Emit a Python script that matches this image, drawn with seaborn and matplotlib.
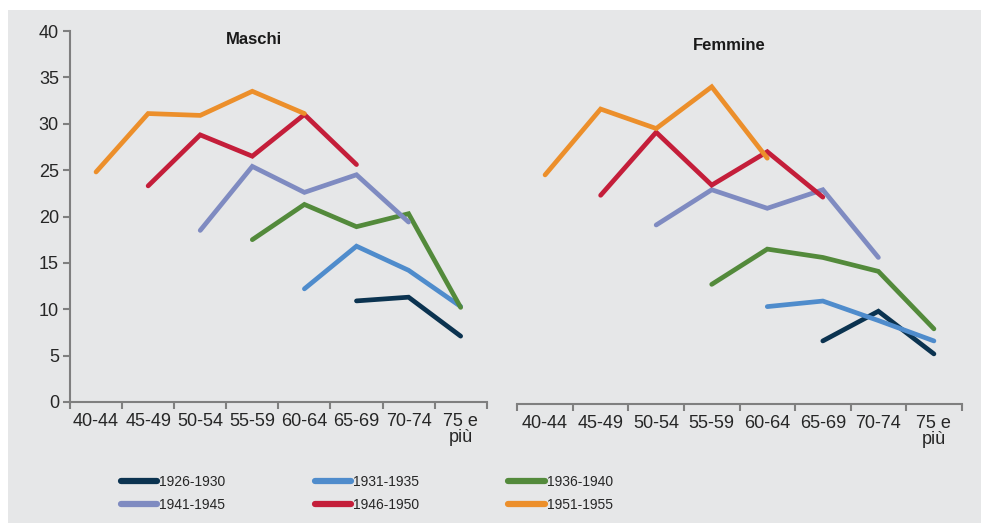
import numpy as np
import pandas as pd
import matplotlib
matplotlib.use("Agg")
import matplotlib.pyplot as plt
from matplotlib.patches import Rectangle
from matplotlib.lines import Line2D
import seaborn as sns

# ---------------- data ----------------
age_groups = ["40-44", "45-49", "50-54", "55-59", "60-64", "65-69", "70-74", "75 e\npiù"]
cohorts = ["1926-1930", "1931-1935", "1936-1940", "1941-1945", "1946-1950", "1951-1955"]
colors = ["#0b3350", "#4f8ccc", "#538a3b", "#7f8bc1", "#c41e3a", "#ec8f2b"]

nan = np.nan
maschi_1926_1930 = [nan, nan, nan, nan, nan, 10.9, 11.3, 7.1]
maschi_1931_1935 = [nan, nan, nan, nan, 12.2, 16.8, 14.2, 10.3]
maschi_1936_1940 = [nan, nan, nan, 17.5, 21.3, 18.9, 20.3, 10.2]
maschi_1941_1945 = [nan, nan, 18.5, 25.4, 22.6, 24.5, 19.4, nan]
maschi_1946_1950 = [nan, 23.3, 28.8, 26.5, 31.0, 25.6, nan, nan]
maschi_1951_1955 = [24.8, 31.1, 30.9, 33.5, 31.1, nan, nan, nan]

femmine_1926_1930 = [nan, nan, nan, nan, nan, 6.8, 10.0, 5.4]
femmine_1931_1935 = [nan, nan, nan, nan, 10.5, 11.1, 9.0, 6.8]
femmine_1936_1940 = [nan, nan, nan, 12.9, 16.7, 15.8, 14.3, 8.1]
femmine_1941_1945 = [nan, nan, 19.3, 23.1, 21.1, 23.1, 15.8, nan]
femmine_1946_1950 = [nan, 22.5, 29.3, 23.6, 27.2, 22.3, nan, nan]
femmine_1951_1955 = [24.7, 31.8, 29.7, 34.2, 26.5, nan, nan, nan]

maschi = [maschi_1926_1930, maschi_1931_1935, maschi_1936_1940,
          maschi_1941_1945, maschi_1946_1950, maschi_1951_1955]
femmine = [femmine_1926_1930, femmine_1931_1935, femmine_1936_1940,
           femmine_1941_1945, femmine_1946_1950, femmine_1951_1955]


def long_frame(series):
    rows = []
    for coh, vals in zip(cohorts, series):
        for i, v in enumerate(vals):
            if not np.isnan(v):
                rows.append({"x": i, "val": v, "coorte": coh})
    return pd.DataFrame(rows)


df_m = long_frame(maschi)
df_f = long_frame(femmine)

# ---------------- style ----------------
sns.set_theme(style="white")
plt.rcParams["font.family"] = ["Liberation Sans", "DejaVu Sans"]

BG = "#e6e7e8"
SPINE = "#7f7f7f"
TXT = "#262626"

fig = plt.figure(figsize=(9.81, 5.23), dpi=100, facecolor="white")
fig.patches.append(Rectangle((8 / 981, 0), 1 - 8 / 981, 1 - 10 / 523,
                             transform=fig.transFigure, facecolor=BG,
                             edgecolor="none", zorder=-10))

ax_m = fig.add_axes([70 / 981, 1 - 402 / 523, (486.7 - 70) / 981, 371 / 523])
ax_f = fig.add_axes([517.3 / 981, 1 - 404 / 523, (961.7 - 517.3) / 981, 371 / 523])

palette = dict(zip(cohorts, colors))

for ax, df in [(ax_m, df_m), (ax_f, df_f)]:
    ax.set_facecolor("none")
    sns.lineplot(data=df, x="x", y="val", hue="coorte", hue_order=cohorts,
                 palette=palette, linewidth=3.4, ax=ax, legend=False,
                 solid_capstyle="round", solid_joinstyle="miter")
    ax.set_xlim(-0.5, 7.5)
    ax.set_ylim(0, 40)
    ax.set_xlabel("")
    ax.set_ylabel("")
    ax.set_xticks(np.arange(-0.5, 8.0, 1.0))
    ax.set_xticklabels([])
    ax.set_xticks(np.arange(8), minor=True)
    ax.set_xticklabels(age_groups, minor=True, fontsize=13, color=TXT,
                       linespacing=0.95)
    ax.tick_params(axis="x", which="major", direction="out", length=5,
                   width=1.5, color=SPINE, bottom=True)
    ax.tick_params(axis="x", which="minor", length=0, pad=8)
    for s in ["top", "right"]:
        ax.spines[s].set_visible(False)
    ax.spines["bottom"].set_color(SPINE)
    ax.spines["bottom"].set_linewidth(1.5)

# y axis only on left panel
ax_m.set_yticks(np.arange(0, 41, 5))
ax_m.set_yticklabels([str(v) for v in range(0, 41, 5)], fontsize=13, color=TXT)
ax_m.tick_params(axis="y", direction="out", length=5, width=1.5, color=SPINE,
                 left=True, pad=3)
ax_m.spines["left"].set_color(SPINE)
ax_m.spines["left"].set_linewidth(1.5)
ax_f.spines["left"].set_visible(False)
ax_f.set_yticks([])

fig.text(254 / 981, 1 - 39 / 523, "Maschi", ha="center", va="center",
         fontsize=12, fontweight="bold", color="#1a1a1a")
fig.text(729 / 981, 1 - 45 / 523, "Femmine", ha="center", va="center",
         fontsize=12, fontweight="bold", color="#1a1a1a")

# legend (row-wise order -> column-major fill)
handles = [Line2D([0], [0], color=palette[c], lw=4.5, solid_capstyle="round")
           for c in cohorts]
order = [0, 3, 1, 4, 2, 5]
leg = fig.legend([handles[i] for i in order], [cohorts[i] for i in order],
                 ncol=3, loc="upper left", bbox_to_anchor=(108 / 981, 1 - 462 / 523),
                 frameon=False, handlelength=2.6, handletextpad=0.15,
                 columnspacing=6.45, labelspacing=0.7,
                 prop={"size": 10})
for t in leg.get_texts():
    t.set_color(TXT)

fig.savefig("out.png", dpi=100, facecolor="white")
